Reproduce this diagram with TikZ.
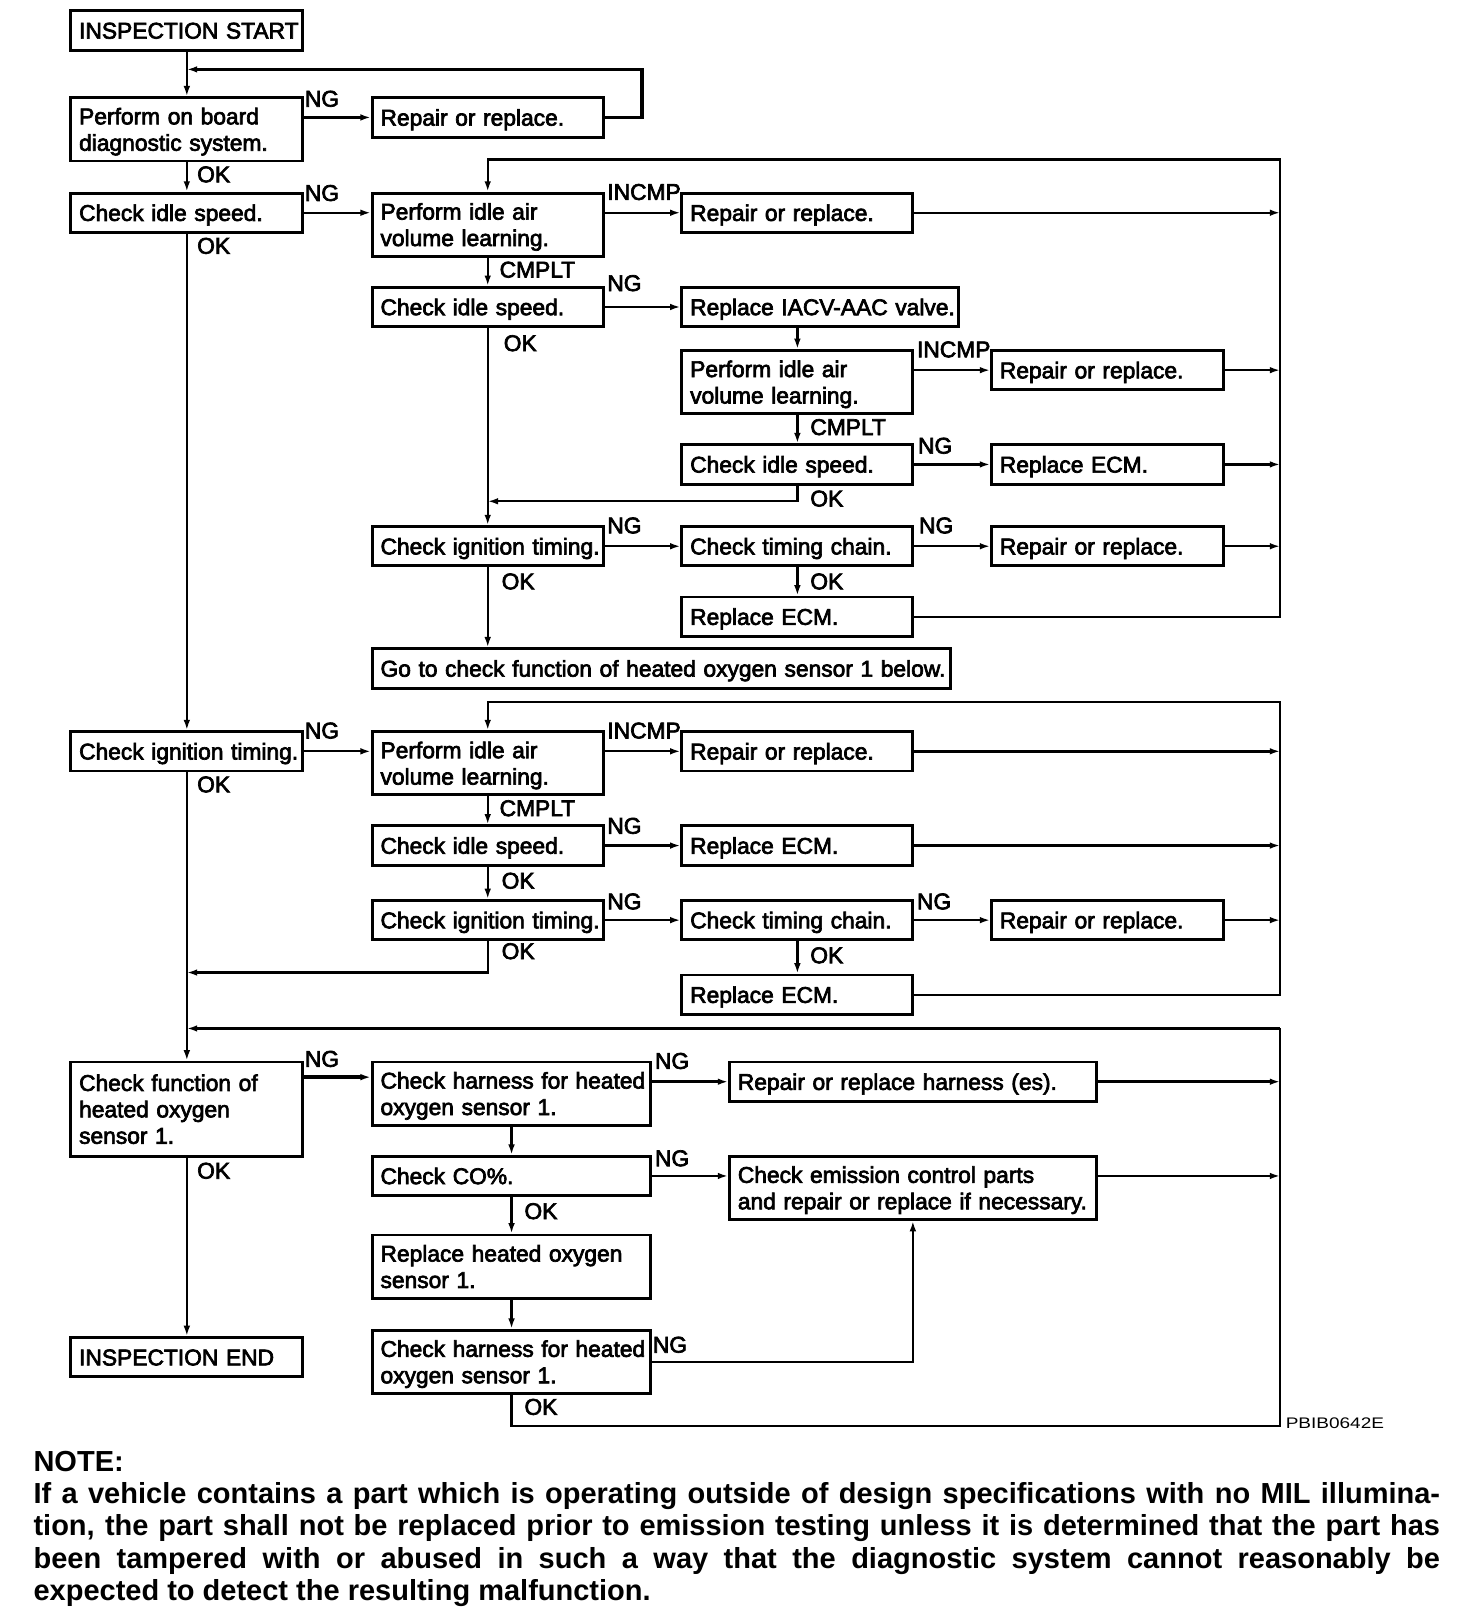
\documentclass[tikz,border=0pt]{standalone}
\usepackage{fontspec}
\usetikzlibrary{arrows.meta}
\setmainfont{Liberation Sans}
\newfontfamily\bxfam{Liberation Sans}[FakeBold=3]
\newfontfamily\codefam{Liberation Sans}[FakeStretch=1.24]
\newcommand\bxfont{\bxfam\fontsize{11pt}{12.75pt}\selectfont}
\newcommand\topstrut{\rule{0pt}{10.6pt}}
\newcommand\botstrut{\rule[-2.7pt]{0pt}{2.7pt}}
\tikzset{
  box/.style={draw, line width=1.4pt, anchor=north west, inner xsep=4pt, inner ysep=0pt,
    align=left, font=\bxfont, execute at begin node=\topstrut, execute at end node=\botstrut},
  wa/.style={text width=104pt},
  wb/.style={text width=103.5pt},
  wc/.style={text width=125.5pt},
  wd/.style={text width=271pt},
  we/.style={text width=126.5pt},
  wf/.style={text width=169pt},
  ha/.style={minimum height=19pt},
  hb/.style={minimum height=30.5pt},
  hc/.style={minimum height=45.5pt},
  lbl/.style={font=\bxfont, inner sep=0pt, anchor=base west},
  conn/.style={line width=1.1pt},
  thk/.style={line width=1.6pt},
  arr/.style={conn, -{Latex[length=5pt,width=3.2pt]}},
  tarr/.style={thk, -{Latex[length=5pt,width=3.2pt]}}
}
\begin{document}
\begin{tikzpicture}[x=0.5pt,y=-0.5pt]
\fill[white] (0,0) rectangle (1406,1568);
\useasboundingbox (0,0) rectangle (1406,1568);

% ---------- boxes ----------
\node[box,wa,ha] (b1) at (67,9) {\mbox{INSPECTION START}};
\node[box,wa,hb] (b2) at (67,93) {\mbox{Perform on board}\\\mbox{diagnostic system.}};
\node[box,wb,ha] (b3) at (358,93) {\mbox{Repair or replace.}};
\node[box,wa,ha] (b4) at (67,185) {\mbox{Check idle speed.}};
\node[box,wb,hb] (b5) at (358,185) {\mbox{Perform idle air}\\\mbox{volume learning.}};
\node[box,wb,ha] (b6) at (657,185) {\mbox{Repair or replace.}};
\node[box,wb,ha] (b7) at (358,276) {\mbox{Check idle speed.}};
\node[box,wc,ha] (b8) at (657,276) {\mbox{Replace IACV-AAC valve.}};
\node[box,wb,hb] (b9) at (657,337) {\mbox{Perform idle air}\\\mbox{volume learning.}};
\node[box,wa,ha] (b10) at (956,337) {\mbox{Repair or replace.}};
\node[box,wb,ha] (b11) at (657,428) {\mbox{Check idle speed.}};
\node[box,wa,ha] (b12) at (956,428) {\mbox{Replace ECM.}};
\node[box,wb,ha] (b13) at (358,507) {\mbox{Check ignition timing.}};
\node[box,wb,ha] (b14) at (657,507) {\mbox{Check timing chain.}};
\node[box,wa,ha] (b15) at (956,507) {\mbox{Repair or replace.}};
\node[box,wb,ha] (b16) at (657,575) {\mbox{Replace ECM.}};
\node[box,wd,ha] (b17) at (358,625) {\mbox{Go to check function of heated oxygen sensor 1 below.}};
\node[box,wa,ha] (b18) at (67,705) {\mbox{Check ignition timing.}};
\node[box,wb,hb] (b19) at (358,705) {\mbox{Perform idle air}\\\mbox{volume learning.}};
\node[box,wb,ha] (b20) at (657,705) {\mbox{Repair or replace.}};
\node[box,wb,ha] (b21) at (358,796) {\mbox{Check idle speed.}};
\node[box,wb,ha] (b22) at (657,796) {\mbox{Replace ECM.}};
\node[box,wb,ha] (b23) at (358,868) {\mbox{Check ignition timing.}};
\node[box,wb,ha] (b24) at (657,868) {\mbox{Check timing chain.}};
\node[box,wa,ha] (b25) at (956,868) {\mbox{Repair or replace.}};
\node[box,wb,ha] (b26) at (657,940) {\mbox{Replace ECM.}};
\node[box,wa,hc] (b27) at (67,1024) {\mbox{Check function of}\\\mbox{heated oxygen}\\\mbox{sensor 1.}};
\node[box,we,hb] (b28) at (358,1024) {\mbox{Check harness for heated}\\\mbox{oxygen sensor 1.}};
\node[box,wf,ha] (b29) at (703,1024) {\mbox{Repair or replace harness (es).}};
\node[box,we,ha] (b30) at (358,1115) {\mbox{Check CO\%.}};
\node[box,wf,hb] (b31) at (703,1115) {\mbox{Check emission control parts}\\\mbox{and repair or replace if necessary.}};
\node[box,we,hb] (b32) at (358,1191) {\mbox{Replace heated oxygen}\\\mbox{sensor 1.}};
\node[box,wa,ha] (b33) at (67,1290) {\mbox{INSPECTION END}};
\node[box,we,hb] (b34) at (358,1283) {\mbox{Check harness for heated}\\\mbox{oxygen sensor 1.}};

% ---------- helper coordinates ----------
\coordinate (c1) at (620,67);
\coordinate (r1) at (1236,154);
\coordinate (c2) at (0,484);
\coordinate (r3) at (1236,678);
\coordinate (c3) at (0,939);
\coordinate (r5) at (1236,993);
\coordinate (c5) at (0,1377);
\coordinate (c6) at (0,1040);

% ---------- connectors: first block ----------
\draw[arr] (b1.south) -- (b2.north);
\draw[arr] (b2.east |- b3.west) -- (b3.west);
\draw[tarr] (b3.east) -| (c1) -- (c1 -| b2.north);
\draw[arr] (b2.south) -- (b4.north);
\draw[arr] (b4.east) -- (b4.east -| b5.west);
\draw[arr] (b4.south) -- (b18.north);
\draw[arr] (b5.east |- b6.west) -- (b6.west);
\draw[arr] (b5.south) -- (b7.north);
\draw[arr] (b16.east) -- (b16.east -| r1) -- (r1) -- (r1 -| b5.north) -- (b5.north);
\draw[arr] (b6.east) -- (b6.east -| r1);
\draw[arr] (b7.east) -- (b8.west);
\draw[arr] (b7.south) -- (b13.north);
\draw[arr] (b8.south -| b9.north) -- (b9.north);
\draw[arr] (b9.east |- b10.west) -- (b10.west);
\draw[arr] (b10.east) -- (b10.east -| r1);
\draw[arr] (b9.south) -- (b11.north);
\draw[tarr] (b11.east) -- (b12.west);
\draw[tarr] (b12.east) -- (b12.east -| r1);
\draw[arr] (b11.south) -- (b11.south |- c2) -- (b7.south |- c2);
\draw[arr] (b13.east) -- (b14.west);
\draw[arr] (b14.east) -- (b15.west);
\draw[arr] (b15.east) -- (b15.east -| r1);
\draw[arr] (b14.south) -- (b16.north);
\draw[arr] (b13.south) -- (b13.south |- b17.north);

% ---------- connectors: second block ----------
\draw[arr] (b18.east) -- (b18.east -| b19.west);
\draw[arr] (b26.east) -- (b26.east -| r3) -- (r3) -- (r3 -| b19.north) -- (b19.north);
\draw[arr] (b19.east |- b20.west) -- (b20.west);
\draw[tarr] (b20.east) -- (b20.east -| r3);
\draw[arr] (b19.south) -- (b21.north);
\draw[arr] (b21.east) -- (b22.west);
\draw[arr] (b22.east) -- (b22.east -| r3);
\draw[arr] (b21.south) -- (b23.north);
\draw[arr] (b23.east) -- (b24.west);
\draw[arr] (b24.east) -- (b25.west);
\draw[arr] (b25.east) -- (b25.east -| r3);
\draw[arr] (b24.south) -- (b26.north);
\draw[arr] (b23.south) -- (b23.south |- c3) -- (b18.south |- c3);
\draw[arr] (b18.south) -- (b27.north);

% ---------- connectors: third block ----------
\draw[conn] (b34.south) -- (b34.south |- c5) -- (c5 -| r5) -- (r5);
\draw[tarr] (r5) -- (r5 -| b27.north);
\draw[tarr] (b27.east |- c6) -- (b28.west |- c6);
\draw[tarr] (b28.east |- b29.west) -- (b29.west);
\draw[tarr] (b29.east) -- (b29.east -| r5);
\draw[arr] (b28.south) -- (b30.north);
\draw[arr] (b30.east) -- (b30.east -| b31.west);
\draw[arr] (b30.east -| b31.east) -- (b30.east -| r5);
\draw[arr] (b30.south) -- (b32.north);
\draw[arr] (b32.south) -- (b34.north);
\draw[arr] (b34.east) -| (b31.south);
\draw[arr] (b27.south) -- (b33.north);

% ---------- labels ----------
\node[lbl] (l1) at (294,103) {NG};
\node[lbl] (l2) at (190,176) {OK};
\node[lbl] (l3) at (294,194) {NG};
\node[lbl] (l4) at (190,245) {OK};
\node[lbl] (l5) at (586,193) {INCMP};
\node[lbl] (l6) at (482,268) {CMPLT};
\node[lbl] (l7) at (586,281) {NG};
\node[lbl] (l8) at (486,339) {OK};
\node[lbl] (l9) at (885,345) {INCMP};
\node[lbl] (l10) at (782,420) {CMPLT};
\node[lbl] (l11) at (886,438) {NG};
\node[lbl] (l12) at (782,489) {OK};
\node[lbl] (l13) at (586,515) {NG};
\node[lbl] (l14) at (887,515) {NG};
\node[lbl] (l15) at (484,569) {OK};
\node[lbl] (l16) at (782,569) {OK};
\node[lbl] (l17) at (294,713) {NG};
\node[lbl] (l18) at (190,765) {OK};
\node[lbl] (l19) at (586,713) {INCMP};
\node[lbl] (l20) at (482,788) {CMPLT};
\node[lbl] (l21) at (586,805) {NG};
\node[lbl] (l22) at (484,858) {OK};
\node[lbl] (l23) at (586,878) {NG};
\node[lbl] (l24) at (885,878) {NG};
\node[lbl] (l25) at (484,926) {OK};
\node[lbl] (l26) at (782,930) {OK};
\node[lbl] (l27) at (294,1030) {NG};
\node[lbl] (l28) at (190,1138) {OK};
\node[lbl] (l29) at (632,1032) {NG};
\node[lbl] (l30) at (632,1126) {NG};
\node[lbl] (l31) at (506,1177) {OK};
\node[lbl] (l32) at (630,1306) {NG};
\node[lbl] (l33) at (506,1366) {OK};

\node[inner sep=0pt, anchor=base west, font=\codefam\fontsize{7.4pt}{9pt}\selectfont] (code) at (1241,1379) {PBIB0642E};

\node[inner sep=0pt, anchor=base west, text width=679pt, align=justify,
  font=\bfseries\fontsize{14pt}{15.5pt}\selectfont] (note) at (32,1421)
  {NOTE:\\
   If a vehicle contains a part which is operating outside of design specifications with no MIL illumina-\linebreak
   tion, the part shall not be replaced prior to emission testing unless it is determined that the part has\linebreak
   been tampered with or abused in such a way that the diagnostic system cannot reasonably be\linebreak
   expected to detect the resulting malfunction.};
\end{tikzpicture}
\end{document}
